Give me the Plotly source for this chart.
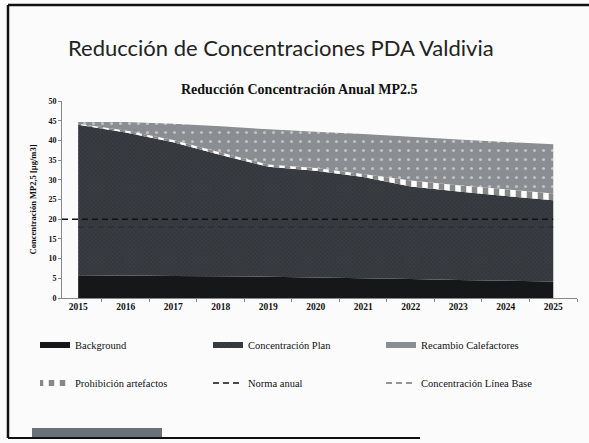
import plotly.graph_objects as go

# data
years = [2015, 2016, 2017, 2018, 2019, 2020, 2021, 2022, 2023, 2024, 2025]
background = [5.8, 5.7, 5.6, 5.5, 5.4, 5.2, 5.0, 4.8, 4.6, 4.4, 4.2]
concentracion_plan = [38.2, 36.3, 33.9, 30.8, 27.9, 27.1, 25.7, 23.5, 22.4, 21.5, 20.6]
prohibicion = [0.2, 0.5, 0.6, 0.6, 0.6, 0.7, 0.8, 1.5, 1.6, 1.7, 1.7]
recambio = [0.5, 2.2, 4.1, 6.7, 8.9, 9.2, 10.1, 11.1, 11.6, 12.0, 12.5]
norma_anual = 20
linea_base = 18

W, H = 589, 443
L, R, T, B = 62, 12, 101, 145
X_MIN, X_MAX = 2014.66, 2025.5

def px(x):
    return (x - L) / (W - L - R)

def py(y):
    return (H - B - y) / (H - T - B)

serif = "Liberation Serif"
fig = go.Figure()

fig.add_trace(go.Scatter(
    x=years, y=background, name="Background", stackgroup="one",
    mode="none", fillcolor="#161718", legend="legend"))
fig.add_trace(go.Scatter(
    x=years, y=concentracion_plan, name="Concentración Plan", stackgroup="one",
    mode="none", fillcolor="#383c42",
    fillpattern=dict(shape="x", fgcolor="#4a4f56", bgcolor="#34383d", size=3, solidity=0.3),
    legend="legend"))
fig.add_trace(go.Scatter(
    x=years, y=prohibicion, name="Prohibición artefactos", stackgroup="one",
    mode="none", fillcolor="white",
    fillpattern=dict(shape="|", fgcolor="#111", bgcolor="white", size=11, solidity=0.5),
    legend="legend2"))
fig.add_trace(go.Scatter(
    x=years, y=recambio, name="Recambio Calefactores", stackgroup="one",
    mode="none", fillcolor="#8a8d91",
    fillpattern=dict(shape=".", fgcolor="#f4f4f4", bgcolor="#8a8d91", size=9, solidity=0.1),
    legend="legend"))

fig.add_trace(go.Scatter(
    x=[X_MIN, years[-1]], y=[norma_anual, norma_anual], name="Norma anual",
    mode="lines", line=dict(color="#111", width=1.6, dash="6px,4px"), legend="legend2"))
fig.add_trace(go.Scatter(
    x=[years[0], years[-1]], y=[linea_base, linea_base], name="Concentración Línea Base",
    mode="lines", line=dict(color="#2a2e34", width=1.2, dash="6px,4px"), legend="legend2"))

# slide frame and decoration
shapes = [
    dict(type="line", xref="paper", yref="paper", x0=px(8), x1=px(595), y0=py(5), y1=py(5),
         line=dict(color="#111", width=2.5)),
    dict(type="line", xref="paper", yref="paper", x0=px(8), x1=px(8), y0=py(5), y1=py(438),
         line=dict(color="#111", width=2.5)),
    dict(type="line", xref="paper", yref="paper", x0=px(8), x1=px(420), y0=py(438), y1=py(438),
         line=dict(color="#111", width=2)),
    dict(type="rect", xref="paper", yref="paper", x0=px(32), x1=px(162), y0=py(428), y1=py(437),
         fillcolor="#6c7175", line=dict(width=0)),
]

annotations = [
    dict(text="Reducción de Concentraciones PDA Valdivia", x=px(281), y=py(47),
         xref="paper", yref="paper", showarrow=False, xanchor="center", yanchor="middle",
         font=dict(family="Lato", size=22, color="#222")),
    dict(text="<b>Reducción Concentración Anual MP2.5</b>", x=px(299), y=py(89),
         xref="paper", yref="paper", showarrow=False, xanchor="center", yanchor="middle",
         font=dict(family=serif, size=14, color="#111")),
]

legend_common = dict(
    orientation="h", xref="paper", yref="paper", yanchor="middle", xanchor="left",
    font=dict(family=serif, size=10.5, color="#111"), bgcolor="rgba(0,0,0,0)",
    entrywidth=128, entrywidthmode="pixels", itemwidth=30, traceorder="normal")

fig.update_layout(
    width=W, height=H,
    margin=dict(l=L, r=R, t=T, b=B),
    paper_bgcolor="#fbfbfb", plot_bgcolor="#fbfbfb",
    showlegend=True,
    legend=dict(x=px(35), y=py(345), **legend_common),
    legend2=dict(x=px(35), y=py(383), **legend_common),
    shapes=shapes, annotations=annotations,
    xaxis=dict(range=[X_MIN, X_MAX], tickmode="array", tickvals=years,
               ticktext=[f"<b>{y}</b>" for y in years], showgrid=False, zeroline=False,
               showline=True, linecolor="#888", linewidth=1, ticks="",
               tickfont=dict(family=serif, size=9.5, color="#111"),
               minor=dict(ticks="outside", tick0=2014.5, dtick=1, ticklen=3,
                          tickcolor="#888", showgrid=False)),
    yaxis=dict(range=[0, 50], tickvals=list(range(0, 51, 5)),
               ticktext=[f"<b>{v}</b>" for v in range(0, 51, 5)], showgrid=False,
               zeroline=False, showline=True, linecolor="#888", linewidth=1, ticks="outside",
               ticklen=3, tickcolor="#888", tickfont=dict(family=serif, size=8, color="#111"),
               title=dict(text="<b>Concentración MP2,5 [µg/m3]</b>",
                          font=dict(family=serif, size=8.5, color="#111"), standoff=10)),
)

fig.write_html(
    "out.html",
    config={"displayModeBar": False},
    post_script=("document.body.style.margin='0';document.body.style.overflow='hidden';"
                 "document.documentElement.style.overflow='hidden';"))
